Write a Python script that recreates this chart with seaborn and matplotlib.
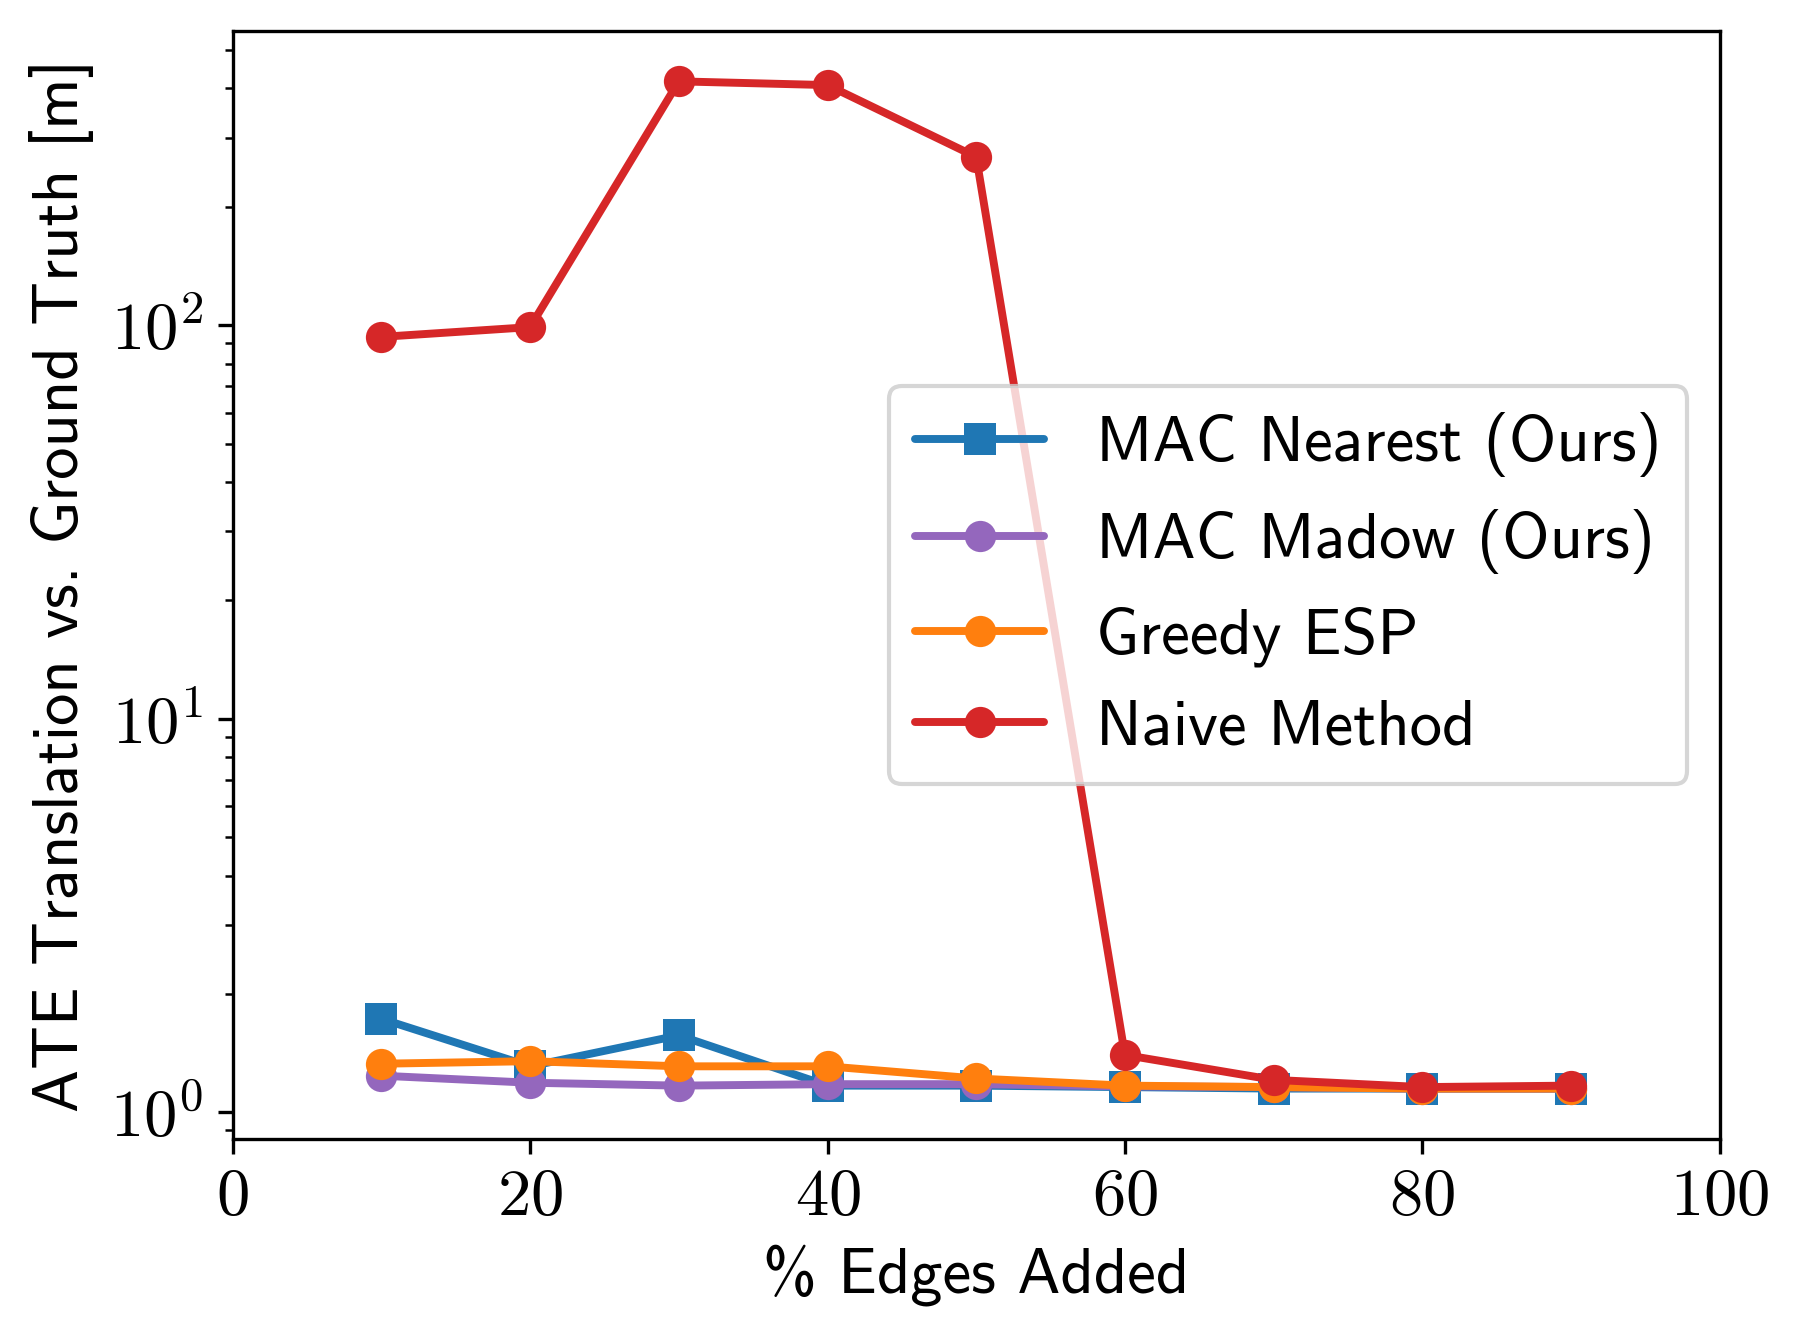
import numpy as np
import pandas as pd
import seaborn as sns
import matplotlib.pyplot as plt

# values
edges_pct = [10, 20, 30, 40, 50, 60, 70, 80, 90]
mac_nearest = [1.73, 1.31, 1.57, 1.17, 1.17, 1.16, 1.15, 1.15, 1.15]
mac_madow = [1.24, 1.19, 1.17, 1.18, 1.18, 1.165, 1.16, 1.15, 1.15]
greedy_esp = [1.33, 1.35, 1.31, 1.31, 1.22, 1.17, 1.16, 1.15, 1.15]
naive = [93.5, 99.0, 417.0, 408.0, 268.0, 1.40, 1.21, 1.16, 1.17]

series_names = ['MAC Nearest (Ours)', 'MAC Madow (Ours)', 'Greedy ESP', 'Naive Method']
series_vals = [mac_nearest, mac_madow, greedy_esp, naive]
series_colors = ['#1f77b4', '#9467bd', '#ff7f0e', '#d62728']
series_markers = ['s', 'o', 'o', 'o']

sns.set_theme(style='ticks', rc={
    'axes.edgecolor': 'black', 'axes.linewidth': 0.8,
    'text.color': 'black', 'axes.labelcolor': 'black',
    'xtick.color': 'black', 'ytick.color': 'black',
    'xtick.major.size': 3.5, 'ytick.major.size': 3.5,
    'xtick.minor.size': 2, 'ytick.minor.size': 2,
    'xtick.major.width': 0.8, 'ytick.major.width': 0.8,
    'ytick.minor.width': 0.6,
})
plt.rcParams['font.family'] = ['cmr10', 'DejaVu Sans']
plt.rcParams['mathtext.fontset'] = 'cm'
plt.rcParams['axes.unicode_minus'] = False
plt.rcParams['axes.formatter.use_mathtext'] = True

fig = plt.figure(figsize=(1797 / 300, 1336 / 300), dpi=300)
ax = fig.add_axes([0.1295, 0.1475, 0.8275, 0.8293])

for name, vals, col, mk in zip(series_names, series_vals, series_colors, series_markers):
    df = pd.DataFrame({'edges': edges_pct, 'ate': vals})
    sns.lineplot(data=df, x='edges', y='ate', ax=ax, color=col, marker=mk,
                 markersize=7.5, markeredgewidth=0, linewidth=1.9, label=name)

ax.set_yscale('log')
ax.set_xlim(0, 100)
ax.set_xticks([0, 20, 40, 60, 80, 100])
ax.tick_params(axis='both', labelsize=16)

sans = ['cmss10', 'DejaVu Sans']
ax.set_xlabel('% Edges Added', fontsize=15.5, family=sans)
ax.set_ylabel('ATE Translation vs. Ground Truth [m]', fontsize=15.5, family=sans)

leg = ax.legend(loc='center right', prop={'family': sans, 'size': 15.5},
                frameon=True, fancybox=True, framealpha=0.8, edgecolor='0.8')

fig.savefig('out.png', dpi=300)
